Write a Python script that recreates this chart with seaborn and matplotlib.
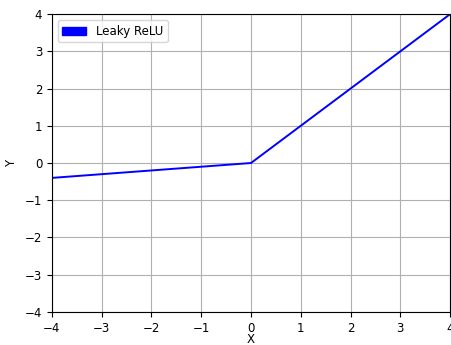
import matplotlib
matplotlib.use("Agg")
import matplotlib.pyplot as plt
from matplotlib.patches import Patch
import seaborn as sns
import pandas as pd

# Leaky ReLU breakpoints (slope 0.1 on the negative side)
x_values = [-4.0, 0.0, 4.0]
y_values = [-0.4, 0.0, 4.0]
series_label = "Leaky ReLU"
ticks = [-4, -3, -2, -1, 0, 1, 2, 3, 4]

df = pd.DataFrame({"X": x_values, "Y": y_values})

plt.rcParams["font.size"] = 8.5
fig, ax = plt.subplots(figsize=(4.51, 3.45), dpi=100)
fig.subplots_adjust(left=0.115, right=0.998, top=0.959, bottom=0.096)

sns.lineplot(data=df, x="X", y="Y", color="blue", linewidth=1.4, ax=ax, legend=False)

ax.set_xlim(-4, 4)
ax.set_ylim(-4, 4)
ax.set_xticks(ticks)
ax.set_yticks(ticks)
ax.set_xlabel("X", labelpad=-1)
ax.set_ylabel("Y", labelpad=5)
ax.grid(True, color="#b0b0b0", linewidth=0.8)
ax.set_axisbelow(True)
ax.legend(handles=[Patch(color="blue", label=series_label)], loc="upper left")

fig.savefig("out.png", dpi=100)
